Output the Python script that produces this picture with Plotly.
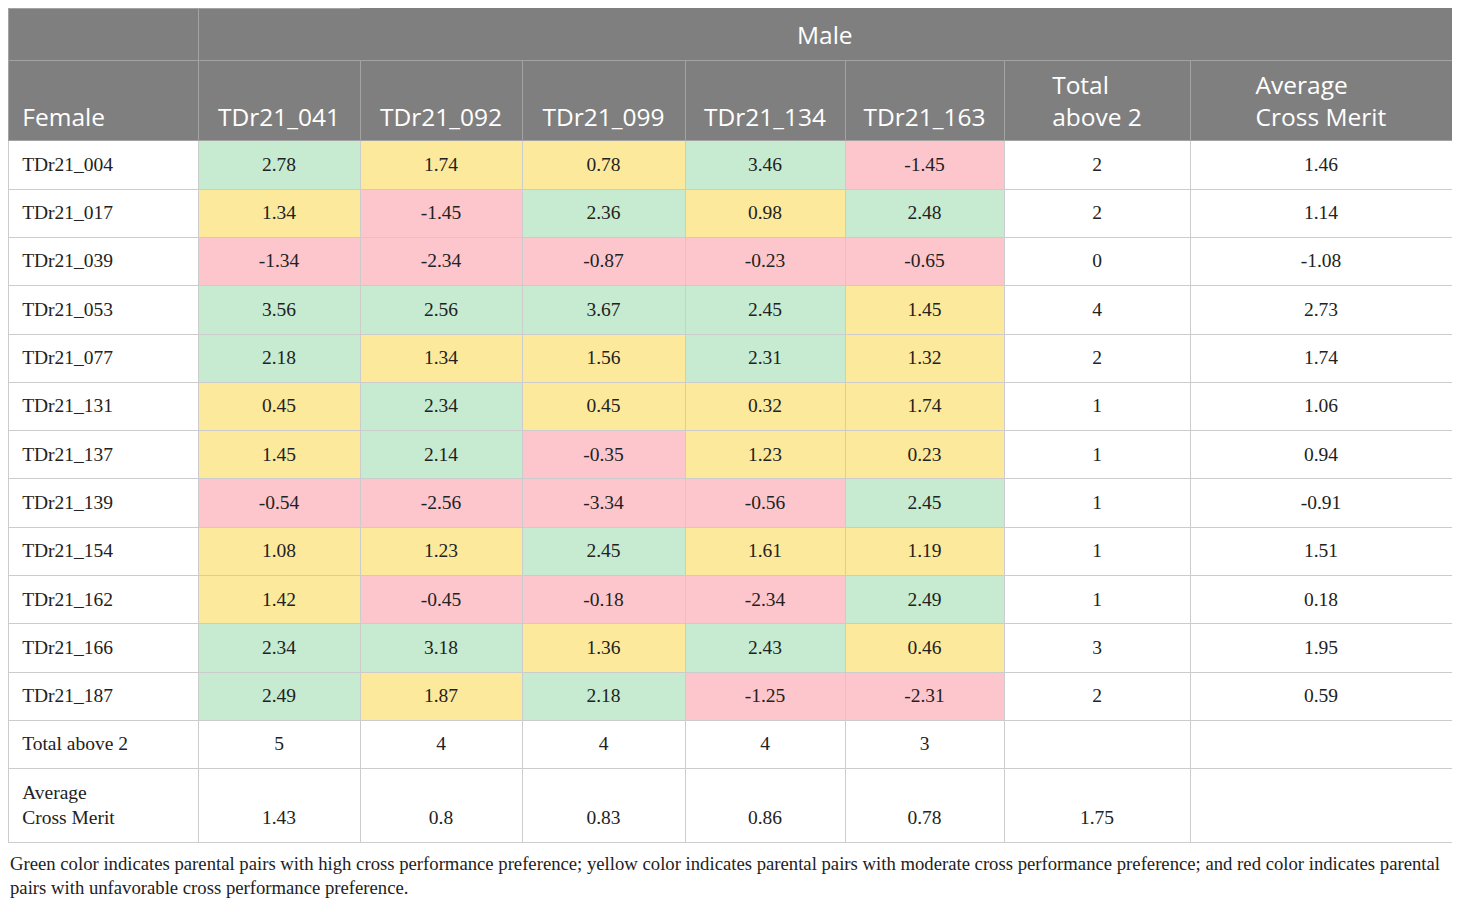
import plotly.graph_objects as go

females = ["TDr21_004", "TDr21_017", "TDr21_039", "TDr21_053", "TDr21_077", "TDr21_131",
           "TDr21_137", "TDr21_139", "TDr21_154", "TDr21_162", "TDr21_166", "TDr21_187"]
males = ["TDr21_041", "TDr21_092", "TDr21_099", "TDr21_134", "TDr21_163"]

merit_041 = [2.78, 1.34, -1.34, 3.56, 2.18, 0.45, 1.45, -0.54, 1.08, 1.42, 2.34, 2.49]
merit_092 = [1.74, -1.45, -2.34, 2.56, 1.34, 2.34, 2.14, -2.56, 1.23, -0.45, 3.18, 1.87]
merit_099 = [0.78, 2.36, -0.87, 3.67, 1.56, 0.45, -0.35, -3.34, 2.45, -0.18, 1.36, 2.18]
merit_134 = [3.46, 0.98, -0.23, 2.45, 2.31, 0.32, 1.23, -0.56, 1.61, -2.34, 2.43, -1.25]
merit_163 = [-1.45, 2.48, -0.65, 1.45, 1.32, 1.74, 0.23, 2.45, 1.19, 2.49, 0.46, -2.31]

female_total = [2, 2, 0, 4, 2, 1, 1, 1, 1, 1, 3, 2]
female_avg = [1.46, 1.14, -1.08, 2.73, 1.74, 1.06, 0.94, -0.91, 1.51, 0.18, 1.95, 0.59]
male_total = [5, 4, 4, 4, 3]
male_avg = [1.43, 0.8, 0.83, 0.86, 0.78]
grand_avg = 1.75

caption = ("Green color indicates parental pairs with high cross performance preference; yellow color "
           "indicates parental pairs with moderate cross performance preference; and red color indicates parental"
           "<br>pairs with unfavorable cross performance preference.")

# styles
GREEN, YELLOW, RED, WHITE = "#c6ebd0", "#fde99b", "#fdc6cd", "#ffffff"
HEAD, HEAD_LINE, LINE = "#7f7f7f", "#a3a3a3", "#cccccc"
HEAD_FONT, BODY_FONT = "Open Sans", "Liberation Serif"
col_widths = [190, 162, 162, 163, 160, 159, 186, 262]

# plotly tables top-align text; a wide invisible space pushes it down to mid-row.
# the trailing <br> keeps plotly from word-wrapping the markup
BIG = '<span style="font-size:24.5px">&nbsp;</span>'
TALL = '<span style="font-size:48px">&nbsp;</span>'   # deepens the two-line last row


def left(text):
    lines = text.split("<br>")
    out = [BIG + t for t in lines]
    if len(lines) > 1:
        out[-1] += TALL
    return "<br>".join(out) + "<br>"


def mid(text):
    lines = text.split("<br>")
    out = [BIG + t + BIG for t in lines]
    if len(lines) > 1:
        out[-1] = TALL + lines[-1] + TALL
    return "<br>".join(out) + "<br>"


def cell_color(v):
    if v > 2:
        return GREEN
    if v >= 0:
        return YELLOW
    return RED


merits = [merit_041, merit_092, merit_099, merit_134, merit_163]
n_rows = len(females) + 2

# cell text, column by column
cells = [[left(t) for t in females + ["Total above 2", "Average<br>Cross Merit"]]]
fills = [[WHITE] * n_rows]
for m, col in enumerate(merits):
    txt = [str(v) for v in col] + [str(male_total[m]), "<br>" + str(male_avg[m])]
    cells.append([mid(t) for t in txt])
    fills.append([cell_color(v) for v in col] + [WHITE] * 2)
cells.append([mid(t) for t in [str(v) for v in female_total] + ["", "<br>" + str(grand_avg)]])
fills.append([WHITE] * n_rows)
cells.append([mid(t) for t in [str(v) for v in female_avg] + ["", "<br>"]])
fills.append([WHITE] * n_rows)

header = [["", "&nbsp;<br>&nbsp;Female"]] + [["", "&nbsp;<br>" + m] for m in males] + \
         [["", "Total<br>above 2"], ["", "Average<br>Cross Merit"]]
# first header row is one merged "Male" band: hide its inner vertical lines
head_lines = [[HEAD_LINE, HEAD_LINE], [HEAD_LINE, HEAD_LINE]] + [[HEAD, HEAD_LINE]] * 6

fig = go.Figure()
fig.add_trace(go.Table(
    columnwidth=col_widths,
    domain=dict(x=[0, 1], y=[0.03, 1]),
    header=dict(values=header, fill_color=HEAD, height=52,
                line=dict(color=head_lines, width=1),
                align=["left"] + ["center"] * 7,
                font=dict(family=HEAD_FONT, size=24.5, color="white")),
    cells=dict(values=cells, fill_color=fills, height=48.3,
               line=dict(color=LINE, width=1),
               align=["left"] + ["center"] * 7,
               font=dict(family=BODY_FONT, size=19.5, color="#222222")),
))

total_w = sum(col_widths)
fig.add_annotation(text="Male", xref="paper", yref="paper",
                   x=(col_widths[0] + (total_w - col_widths[0]) / 2) / total_w, y=1 - 26 / 890,
                   xanchor="center", yanchor="middle", showarrow=False,
                   font=dict(family=HEAD_FONT, size=24.5, color="white"))
fig.add_annotation(text=caption, xref="paper", yref="paper", x=0, y=1 - 843 / 890,
                   xanchor="left", yanchor="top", align="left", showarrow=False,
                   font=dict(family=BODY_FONT, size=18.7, color="#222222"))

fig.update_layout(width=1444, height=890, margin=dict(l=0, r=0, t=0, b=0),
                  paper_bgcolor="white")
fig.write_html("out.html")
